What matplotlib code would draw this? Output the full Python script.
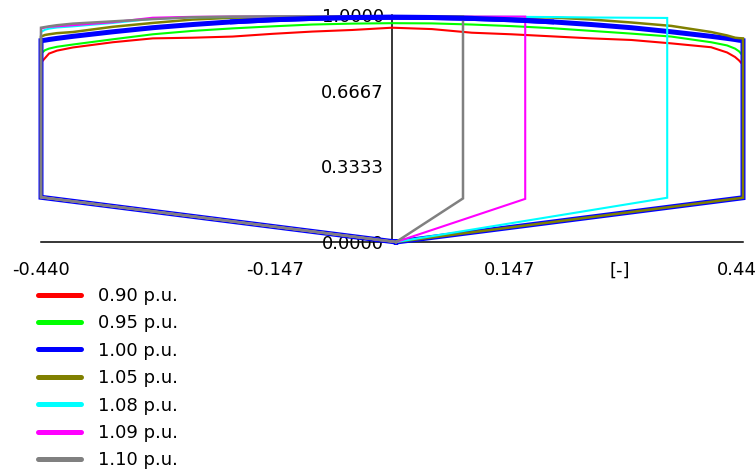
import numpy as np
import matplotlib.pyplot as plt
from matplotlib.lines import Line2D

# reactive power grid for the upper limit curves [-]
q_top = [-0.44, -0.435, -0.43, -0.42, -0.40, -0.35, -0.30, -0.25, -0.20, -0.15, -0.10, -0.05,
         0.0, 0.05, 0.10, 0.15, 0.20, 0.25, 0.30, 0.35, 0.40, 0.42, 0.43, 0.435, 0.44]

# upper limit (active power) per voltage level
p_090 = [0.79, 0.81, 0.83, 0.843, 0.857, 0.880, 0.897, 0.900, 0.905, 0.917, 0.927, 0.934,
         0.944, 0.938, 0.922, 0.915, 0.906, 0.897, 0.890, 0.875, 0.858, 0.835, 0.815, 0.80, 0.78]
p_095 = [0.83, 0.845, 0.852, 0.860, 0.870, 0.893, 0.915, 0.930, 0.941, 0.950, 0.958, 0.962,
         0.964, 0.963, 0.958, 0.951, 0.942, 0.930, 0.918, 0.905, 0.880, 0.866, 0.852, 0.84, 0.82]
p_100 = [0.887, 0.889, 0.892, 0.897, 0.906, 0.926, 0.944, 0.958, 0.970, 0.979, 0.985, 0.989,
         0.990, 0.989, 0.985, 0.979, 0.970, 0.958, 0.944, 0.926, 0.906, 0.897, 0.892, 0.889, 0.887]
p_105 = [0.905, 0.912, 0.915, 0.920, 0.925, 0.948, 0.965, 0.980, 0.988, 0.990, 0.991, 0.991,
         0.991, 0.991, 0.991, 0.990, 0.989, 0.980, 0.967, 0.952, 0.925, 0.910, 0.900, 0.898, 0.897]
p_108 = [0.925, 0.935, 0.940, 0.945, 0.950, 0.965, 0.983, 0.990, 0.991, 0.992, 0.992, 0.992,
         0.992, 0.992, 0.992, 0.992, 0.991, 0.989, 0.988]
p_109 = [0.940, 0.945, 0.948, 0.950, 0.955, 0.968, 0.988, 0.992, 0.993, 0.993, 0.993, 0.993,
         0.993, 0.993, 0.993, 0.993]
p_110 = [0.944, 0.947, 0.950, 0.955, 0.962, 0.972, 0.982, 0.990, 0.993, 0.994, 0.994, 0.994,
         0.994, 0.994]

labels = ['0.90 p.u.', '0.95 p.u.', '1.00 p.u.', '1.05 p.u.', '1.08 p.u.', '1.09 p.u.', '1.10 p.u.']
arcs = [p_090, p_095, p_100, p_105, p_108, p_109, p_110]
q_right = [0.44, 0.44, 0.44, 0.44, 0.345, 0.167, 0.089]
p_right_top = [0.78, 0.82, 0.887, 0.897, 0.987, 0.993, 0.994]
p_right_low = [0.195, 0.195, 0.195, 0.195, 0.195, 0.190, 0.192]
q_left = -0.44
p_left_low = 0.197
q_apex = 0.005

colors = ['#ff0000', '#00ff00', '#0000ff', '#808000', '#00ffff', '#ff00ff', '#808080']
widths = [1.5, 1.5, 3.6, 1.8, 1.5, 1.5, 1.8]

x_ticks = [-0.44, -0.147, 0.147, 0.44]
x_ticklabels = ['-0.440', '-0.147', '0.147', '0.440']
y_ticks = [0.0, 1 / 3, 2 / 3, 1.0]
y_ticklabels = ['0.0000', '0.3333', '0.6667', '1.0000']

plt.rcParams['font.family'] = 'DejaVu Sans'
fs = 13

fig = plt.figure(figsize=(7.56, 4.72), dpi=100)
ax = fig.add_axes([41 / 756, 1 - 242 / 472, 702 / 756, 227 / 472])

for p_arc, qr, prt, prl, c, lw in zip(arcs, q_right, p_right_top, p_right_low, colors, widths):
    n = len(p_arc)
    qs = [q_apex, q_left] + q_top[:n] + [qr, qr, q_apex]
    ps = [0.0, p_left_low] + p_arc + [prt, prl, 0.0]
    ax.plot(qs, ps, color=c, lw=lw, clip_on=False, solid_joinstyle='miter')

# the 1.00 p.u. curve lies over the other curves across the top middle
mid = [i for i, q in enumerate(q_top) if abs(q) <= 0.2]
ax.plot([q_top[i] for i in mid], [p_100[i] for i in mid], color=colors[2], lw=widths[2],
        clip_on=False)

ax.set_xlim(-0.44, 0.44)
ax.set_ylim(0, 1)
ax.set_facecolor('none')
for s in ['top', 'right']:
    ax.spines[s].set_visible(False)
ax.spines['left'].set_position(('data', 0))
for s in ['left', 'bottom']:
    ax.spines[s].set_linewidth(1.1)
    ax.spines[s].set_color('black')
    ax.spines[s].set_zorder(1.6)

ax.set_xticks(x_ticks)
ax.set_xticklabels(x_ticklabels, fontsize=fs)
ax.set_yticks(y_ticks)
ax.set_yticklabels(y_ticklabels, fontsize=fs)
ax.tick_params(axis='x', length=0, pad=14)
ax.tick_params(axis='y', length=0, pad=6)
ax.annotate('[-]', xy=(0.286, 0), xycoords='data', xytext=(0, -14), textcoords='offset points',
            ha='center', va='top', fontsize=fs)

handles = [Line2D([], [], color=c, lw=3.6, solid_capstyle='round') for c in colors]
fig.legend(handles, labels, loc='upper left', bbox_to_anchor=(38 / 756, 1 - 287 / 472),
           frameon=False, borderpad=0, borderaxespad=0, handlelength=2.4, handletextpad=0.9,
           labelspacing=0.52, fontsize=fs)

fig.savefig('out.png', dpi=100, facecolor='white')
